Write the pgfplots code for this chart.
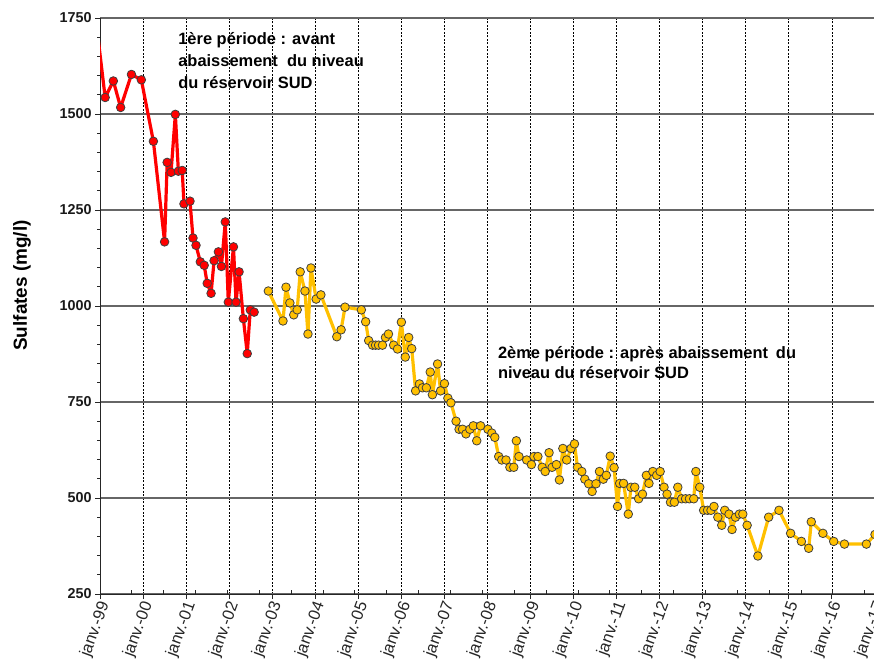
\documentclass[border=0pt]{standalone}
\usepackage{fontspec}
\setmainfont{Liberation Sans}
\usepackage{pgfplots}
\pgfplotsset{compat=1.18}
\definecolor{redl}{HTML}{FF0000}
\definecolor{gold}{HTML}{FFC000}
\definecolor{mk}{HTML}{3F3F3F}
\newcommand{\annfont}{\bfseries\fontsize{16.5}{18}\selectfont}
\begin{document}
\begin{tikzpicture}
\begin{axis}[name=ax, at={(0,0)}, anchor=south west,
  scale only axis, width=775bp, height=576bp,
  xmin=1999, xmax=2017, ymin=250, ymax=1750,
  axis x line*=bottom, axis y line*=left,
  axis line style={-, black!85, line width=1bp},
  xtick={1999,...,2017},
  xticklabels={janv.-99,janv.-00,janv.-01,janv.-02,janv.-03,janv.-04,janv.-05,janv.-06,janv.-07,janv.-08,janv.-09,janv.-10,janv.-11,janv.-12,janv.-13,janv.-14,janv.-15,janv.-16,janv.-17},
  xtick align=outside, major tick length=5bp,
  extra x ticks={1999.74,2000.48,2001.22,2001.96,2002.70,2003.44,2004.18,2004.92,2005.66,2006.40,2007.14,2007.88,2008.62,2009.36,2010.10,2010.84,2011.58,2012.32,2013.06,2013.80,2014.54,2015.28,2016.02,2016.76},
  extra x tick labels={},
  extra x tick style={grid=none, tick align=inside, major tick length=4bp},
  ytick={250,500,750,1000,1250,1500,1750},
  yticklabels={250,500,750,1000,1250,1500,1750},
  minor y tick num=4, ytick align=outside, minor tick length=3bp,
  tick style={black!85, line width=0.8bp},
  ymajorgrids, xmajorgrids,
  major y grid style={black!60, line width=1.1bp},
  major x grid style={black, line width=0.7bp, dash pattern=on 2bp off 1.5bp},
  yticklabel style={font=\bfseries\fontsize{14.4}{16}\selectfont, text=black!90},
  xticklabel style={font=\fontsize{16.5}{18}\selectfont, rotate=70, anchor=east, text=black!85, xshift=2bp, yshift=-6bp},
  clip=true,
]
\addplot[redl, line width=3.2bp, line join=round, mark=*, mark size=4.3bp,
  mark options={fill=redl, draw=mk, line width=0.8bp}] coordinates {
(1998.85,1797) (1999.12,1543) (1999.31,1586) (1999.48,1517) (1999.73,1603)
(1999.96,1589) (2000.24,1429) (2000.50,1167) (2000.56,1374) (2000.65,1348)
(2000.75,1499) (2000.82,1351) (2000.91,1353) (2000.95,1266) (2001.09,1273)
(2001.16,1177) (2001.23,1158) (2001.33,1115) (2001.42,1106) (2001.49,1059)
(2001.58,1033) (2001.65,1118) (2001.75,1141) (2001.82,1103) (2001.91,1219)
(2001.98,1010) (2002.10,1154) (2002.16,1010) (2002.23,1089) (2002.33,967)
(2002.42,876) (2002.49,990) (2002.58,984)
};
\addplot[gold, line width=3.2bp, line join=round, mark=*, mark size=4.3bp,
  mark options={fill=gold, draw=mk, line width=0.8bp}] coordinates {
(2002.91,1039) (2003.25,961) (2003.32,1049) (2003.41,1008) (2003.50,977)
(2003.58,990) (2003.65,1089) (2003.76,1039) (2003.83,927) (2003.90,1099)
(2004.02,1018) (2004.13,1029) (2004.50,920) (2004.60,938) (2004.69,997)
(2005.07,990) (2005.17,959) (2005.24,910) (2005.33,898) (2005.40,898)
(2005.47,898) (2005.56,898) (2005.63,918) (2005.70,927) (2005.82,898)
(2005.91,888) (2006.00,958) (2006.09,867) (2006.17,918) (2006.24,889)
(2006.33,779) (2006.42,797) (2006.49,787) (2006.58,787) (2006.67,828)
(2006.72,769) (2006.84,849) (2006.91,779) (2007.00,798) (2007.08,760)
(2007.15,748) (2007.27,700) (2007.34,679) (2007.42,679) (2007.50,667)
(2007.59,679) (2007.67,688) (2007.75,649) (2007.84,688) (2008.01,679)
(2008.10,669) (2008.17,658) (2008.26,608) (2008.33,599) (2008.43,599)
(2008.52,580) (2008.61,580) (2008.67,649) (2008.73,608) (2008.91,599)
(2009.02,587) (2009.08,608) (2009.17,608) (2009.27,580) (2009.34,569)
(2009.43,618) (2009.50,580) (2009.60,587) (2009.67,547) (2009.75,629)
(2009.84,599) (2009.94,629) (2010.02,641) (2010.09,580) (2010.19,569)
(2010.26,549) (2010.35,537) (2010.43,517) (2010.52,537) (2010.60,569)
(2010.69,549) (2010.76,559) (2010.85,609) (2010.94,579) (2011.02,478)
(2011.07,538) (2011.16,538) (2011.27,458) (2011.33,528) (2011.42,528)
(2011.51,498) (2011.60,510) (2011.69,559) (2011.75,538) (2011.84,569)
(2011.93,559) (2012.01,569) (2012.10,528) (2012.17,510) (2012.25,489)
(2012.34,489) (2012.42,528) (2012.51,498) (2012.60,498) (2012.69,498)
(2012.79,498) (2012.84,569) (2012.93,528) (2013.02,468) (2013.11,468)
(2013.19,468) (2013.26,478) (2013.35,450) (2013.44,429) (2013.51,468)
(2013.61,458) (2013.68,418) (2013.76,450) (2013.85,458) (2013.93,458)
(2014.03,429) (2014.28,349) (2014.53,450) (2014.77,468) (2015.04,408)
(2015.29,387) (2015.46,369) (2015.52,438) (2015.79,408) (2016.04,387)
(2016.29,380) (2016.80,380) (2017.00,405)
};
\node[anchor=base west, inner sep=0pt, font=\annfont] at (axis cs:2000.815,1680) {1ère période : avant};
\node[anchor=base west, inner sep=0pt, font=\annfont] at (axis cs:2000.815,1623) {abaissement\hspace{0.28em} du niveau};
\node[anchor=base west, inner sep=0pt, font=\annfont] at (axis cs:2000.815,1567) {du réservoir SUD};
\node[anchor=base west, inner sep=0pt, font=\annfont] at (axis cs:2008.24,862) {2ème période : après abaissement\hspace{0.2em} du};
\node[anchor=base west, inner sep=0pt, font=\annfont] at (axis cs:2008.24,812) {niveau du réservoir SUD};
\end{axis}
\node[rotate=90, font=\bfseries\fontsize{19}{21}\selectfont, text=black] at ([shift={(-78bp,308.5bp)}]ax.south west) {Sulfates (mg/l)};
\pgfresetboundingbox
\path[use as bounding box] ([shift={(-100bp,-72bp)}]ax.south west) rectangle ([shift={(-1bp,18bp)}]ax.north east);
\end{tikzpicture}
\end{document}
